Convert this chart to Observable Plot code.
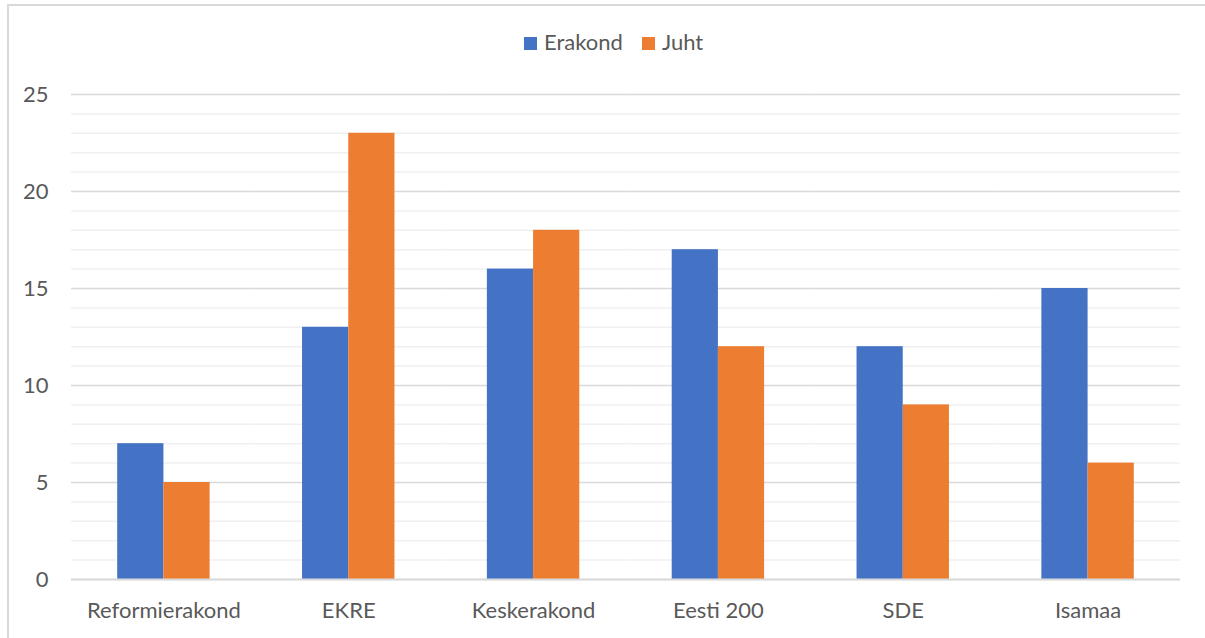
<!DOCTYPE html>
<html>
<head>
<meta charset="utf-8">
<script src="https://cdn.jsdelivr.net/npm/d3@7"></script>
<script src="https://cdn.jsdelivr.net/npm/@observablehq/plot@0.6"></script>
<style>
  html, body { margin: 0; padding: 0; background: #fff; overflow: hidden; }
  #wrap { position: relative; width: 1205px; height: 638px; overflow: hidden; font-family: Lato, "Liberation Sans", sans-serif; }
  #frame { position: absolute; left: 7px; top: 4px; width: 1300px; height: 700px; border: 2px solid #d9d9d9; box-sizing: border-box; }
  #legend { position: absolute; left: 0; top: 0; width: 1205px; height: 60px; }
  .item { position: absolute; top: 29px; font-size: 22px; color: #595959; line-height: 26px; white-space: nowrap; }
  .sw { display: inline-block; width: 13px; height: 13px; margin-right: 7px; vertical-align: 0px; }
  #chart { position: absolute; left: 0; top: 60px; }
</style>
</head>
<body>
<div id="wrap">
  <div id="frame"></div>
  <div id="legend"></div>
  <div id="chart"></div>
</div>
<script>
const parties = ["Reformierakond", "EKRE", "Keskerakond", "Eesti 200", "SDE", "Isamaa"];
const series = ["Erakond", "Juht"];
const erakond = [7, 13, 16, 17, 12, 15];
const juht = [5, 23, 18, 12, 9, 6];
const colors = ["#4472C4", "#ED7D31"];
const yTicks = [0, 5, 10, 15, 20, 25];
const minorTicks = d3.range(0, 26, 1);

const data = [];
parties.forEach((p, i) => {
  data.push({party: p, series: series[0], value: erakond[i]});
  data.push({party: p, series: series[1], value: juht[i]});
});

const chart = Plot.plot({
  width: 1205,
  height: 578,
  marginLeft: 71,
  marginRight: 25,
  marginTop: 34,
  marginBottom: 59,
  style: {fontFamily: "Lato, 'Liberation Sans', sans-serif", fontSize: "22px", color: "#595959", background: "transparent"},
  fx: {domain: parties, padding: 0, round: false, label: null, axis: "bottom", tickSize: 0, tickPadding: 23},
  x: {domain: series, paddingInner: 0, paddingOuter: 1.0, round: false, axis: null},
  y: {domain: [0, 25], ticks: yTicks, label: null, tickSize: 0, tickPadding: 23, tickFormat: d => String(d)},
  color: {domain: series, range: colors},
  marks: [
    Plot.ruleY(minorTicks.filter(d => d % 5 !== 0), {stroke: "#f0f0f0", strokeWidth: 1.5}),
    Plot.ruleY(yTicks, {stroke: "#d9d9d9", strokeWidth: 1.5}),
    Plot.barY(data, {fx: "party", x: "series", y: "value", fill: "series"}),
    Plot.ruleY([0], {stroke: "#d9d9d9", strokeWidth: 2})
  ]
});
document.getElementById("chart").appendChild(chart);

const legend = document.getElementById("legend");
const positions = [524, 642];
series.forEach((s, i) => {
  const el = document.createElement("div");
  el.className = "item";
  el.style.left = positions[i] + "px";
  el.innerHTML = `<span class="sw" style="background:${colors[i]}"></span>${s}`;
  legend.appendChild(el);
});
</script>
</body>
</html>
